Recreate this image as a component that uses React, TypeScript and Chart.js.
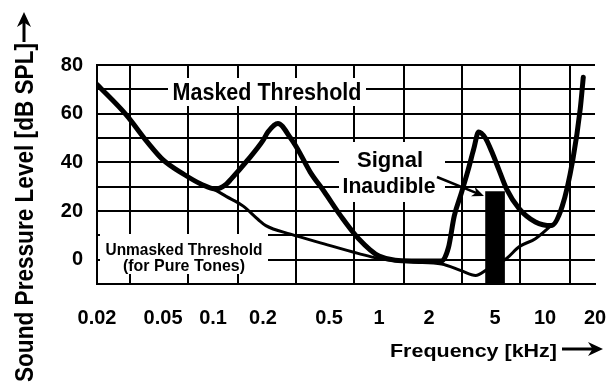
import React, { useEffect, useRef } from 'react';
import { Chart, registerables } from 'chart.js';

Chart.register(...registerables);

const FONT = "'Liberation Sans', Arial, Helvetica, sans-serif";

// Axis ticks
const xTickValues = [0.02, 0.05, 0.1, 0.2, 0.5, 1, 2, 5, 10, 20];
const xTickLabels = ['0.02', '0.05', '0.1', '0.2', '0.5', '1', '2', '5', '10', '20'];
const yLabelValues = [0, 20, 40, 60, 80];

// Masked threshold (thick curve)
const maskedFreq = [0.02, 0.03, 0.04, 0.05, 0.067, 0.085, 0.104, 0.12, 0.128, 0.162, 0.2, 0.214, 0.246, 0.293, 0.323, 0.385, 0.467, 0.588, 0.756, 1.0, 1.565, 2.38, 2.62, 2.84, 3.12, 3.43, 3.72, 3.98, 4.37, 4.8, 5.27, 5.87, 6.98, 8.75, 10.9, 12.7, 14.7, 16.3, 17.0];
const maskedLevel = [72, 59.5, 48.5, 41, 35, 31, 29, 31, 33, 41, 49, 52.5, 56, 50, 45.5, 36, 28, 18, 8.5, 1.5, -0.5, -0.5, 5, 18, 27, 36.5, 45.5, 52.5, 50, 44, 37, 29, 21, 15.5, 14, 22, 41, 62, 75];

// Unmasked threshold in quiet (thin curve)
const unmaskedFreq = [0.02, 0.03, 0.04, 0.05, 0.067, 0.085, 0.104, 0.12, 0.152, 0.187, 0.208, 0.293, 0.467, 0.756, 1.0, 1.565, 2.38, 3.12, 3.82, 4.49, 5.87, 6.98, 8.75, 10.9];
const unmaskedLevel = [72, 59.5, 48.5, 41, 35, 31, 28.5, 26, 22, 16.5, 14, 10.5, 6.5, 2.5, 0.5, -1, -1.8, -4.5, -6.5, -4, 0.5, 5.3, 8.6, 14];

// Signal (masked tone)
const signalFreq = [5];
const signalLevel = [28];
const signalFloor = -10;

// Texts
const xTitle = 'Frequency [kHz]';
const yTitle = 'Sound Pressure Level [dB SPL]';
const maskedLabel = 'Masked Threshold';
const signalLabel = ['Signal', 'Inaudible'];
const unmaskedLabel = ['Unmasked Threshold', '(for Pure Tones)'];

function fitText(
  ctx: CanvasRenderingContext2D,
  text: string,
  x: number,
  y: number,
  size: number,
  width: number,
  align: CanvasTextAlign = 'center',
  rotate = 0
) {
  ctx.save();
  ctx.font = `bold ${size}px ${FONT}`;
  const w = ctx.measureText(text).width || 1;
  ctx.translate(x, y);
  if (rotate) ctx.rotate(rotate);
  ctx.scale(width / w, 1);
  ctx.textAlign = align;
  ctx.textBaseline = 'alphabetic';
  ctx.fillStyle = '#000';
  ctx.fillText(text, 0, 0);
  ctx.restore();
}

function arrow(
  ctx: CanvasRenderingContext2D,
  x1: number,
  y1: number,
  x2: number,
  y2: number,
  lw: number,
  headLen: number,
  headHalf: number
) {
  const ang = Math.atan2(y2 - y1, x2 - x1);
  const len = Math.hypot(x2 - x1, y2 - y1);
  ctx.save();
  ctx.translate(x2, y2);
  ctx.rotate(ang);
  ctx.strokeStyle = '#000';
  ctx.lineWidth = lw;
  ctx.lineCap = 'butt';
  ctx.beginPath();
  ctx.moveTo(-len, 0);
  ctx.lineTo(-headLen * 0.6, 0);
  ctx.stroke();
  ctx.fillStyle = '#000';
  ctx.beginPath();
  ctx.moveTo(0, 0);
  ctx.lineTo(-headLen, -headHalf);
  ctx.lineTo(-headLen * 0.7, 0);
  ctx.lineTo(-headLen, headHalf);
  ctx.closePath();
  ctx.fill();
  ctx.restore();
}

const annotationPlugin = {
  id: 'annotationPlugin',
  beforeDatasetsDraw(chart: any) {
    const ctx: CanvasRenderingContext2D = chart.ctx;
    ctx.save();
    ctx.fillStyle = '#fff';
    ctx.fillRect(168, 78, 198, 28);
    ctx.fillRect(339, 142, 106, 60);
    ctx.fillRect(100, 234, 168, 40);
    ctx.restore();
    fitText(ctx, maskedLabel, 267, 100, 23, 189);
    fitText(ctx, signalLabel[0], 390, 167, 22, 66);
    fitText(ctx, signalLabel[1], 389, 193, 22, 93);
    fitText(ctx, unmaskedLabel[0], 184, 255, 17, 157);
    fitText(ctx, unmaskedLabel[1], 184, 271, 17, 122);
  },
  afterDatasetsDraw(chart: any) {
    const ctx: CanvasRenderingContext2D = chart.ctx;
    arrow(ctx, 437, 177, 484, 196, 2.5, 12, 5);
  },
  afterDraw(chart: any) {
    const ctx: CanvasRenderingContext2D = chart.ctx;
    fitText(ctx, xTitle, 390, 357, 19, 167, 'left');
    arrow(ctx, 562, 349, 603, 349, 3, 15, 7);
    fitText(ctx, yTitle, 33, 382, 25, 339, 'left', -Math.PI / 2);
    arrow(ctx, 24, 42, 24, 12, 3, 15, 7);
  },
};

export default function App() {
  const ref = useRef<HTMLCanvasElement>(null);

  useEffect(() => {
    if (!ref.current) return;
    const chart = new Chart(ref.current, {
      type: 'line',
      data: {
        datasets: [
          {
            type: 'bar',
            label: 'Signal',
            data: signalFreq.map((f, i) => ({ x: f, y: [signalFloor, signalLevel[i]] })) as any,
            backgroundColor: '#000',
            borderWidth: 0,
            barThickness: 19,
            order: 0,
          } as any,
          {
            type: 'line',
            label: maskedLabel,
            data: maskedFreq.map((f, i) => ({ x: f, y: maskedLevel[i] })),
            borderColor: '#000',
            borderWidth: 5,
            pointRadius: 0,
            fill: false,
            cubicInterpolationMode: 'monotone',
            borderCapStyle: 'round',
            borderJoinStyle: 'round',
            order: 1,
          },
          {
            type: 'line',
            label: unmaskedLabel[0],
            data: unmaskedFreq.map((f, i) => ({ x: f, y: unmaskedLevel[i] })),
            borderColor: '#000',
            borderWidth: 3,
            pointRadius: 0,
            fill: false,
            cubicInterpolationMode: 'monotone',
            borderCapStyle: 'round',
            borderJoinStyle: 'round',
            order: 2,
          },
        ],
      },
      options: {
        responsive: false,
        animation: false,
        layout: { padding: { top: 65, right: 14, left: 0, bottom: 0 } },
        plugins: { legend: { display: false }, tooltip: { enabled: false } },
        scales: {
          x: {
            type: 'logarithmic',
            min: 0.02,
            max: 20,
            offset: false,
            afterBuildTicks: (s: any) => {
              s.ticks = xTickValues.map((v) => ({ value: v }));
            },
            afterFit: (s: any) => {
              s.height = 100;
            },
            ticks: {
              autoSkip: false,
              maxRotation: 0,
              minRotation: 0,
              padding: 0,
              color: '#000',
              font: { family: FONT, size: 20, weight: 'bold', lineHeight: 3.4 },
              callback: (v: any) => {
                const i = xTickValues.indexOf(Number(v));
                return i >= 0 ? xTickLabels[i] : '';
              },
            },
            grid: { color: '#000', lineWidth: 2, drawTicks: false },
            border: { color: '#000', width: 2 },
          },
          y: {
            type: 'linear',
            min: -10,
            max: 80,
            afterFit: (s: any) => {
              s.width = 97;
            },
            ticks: {
              stepSize: 10,
              autoSkip: false,
              padding: 14,
              color: '#000',
              font: { family: FONT, size: 20, weight: 'bold' },
              callback: (v: any) => (yLabelValues.includes(Number(v)) ? String(v) : ''),
            },
            grid: { color: '#000', lineWidth: 2, drawTicks: false },
            border: { color: '#000', width: 2 },
          },
        },
      } as any,
      plugins: [annotationPlugin],
    });
    return () => chart.destroy();
  }, []);

  return (
    <div style={{ position: 'absolute', left: 0, top: 0, width: 609, height: 384, background: '#fff' }}>
      <canvas ref={ref} width={609} height={384} style={{ display: 'block' }} />
    </div>
  );
}
